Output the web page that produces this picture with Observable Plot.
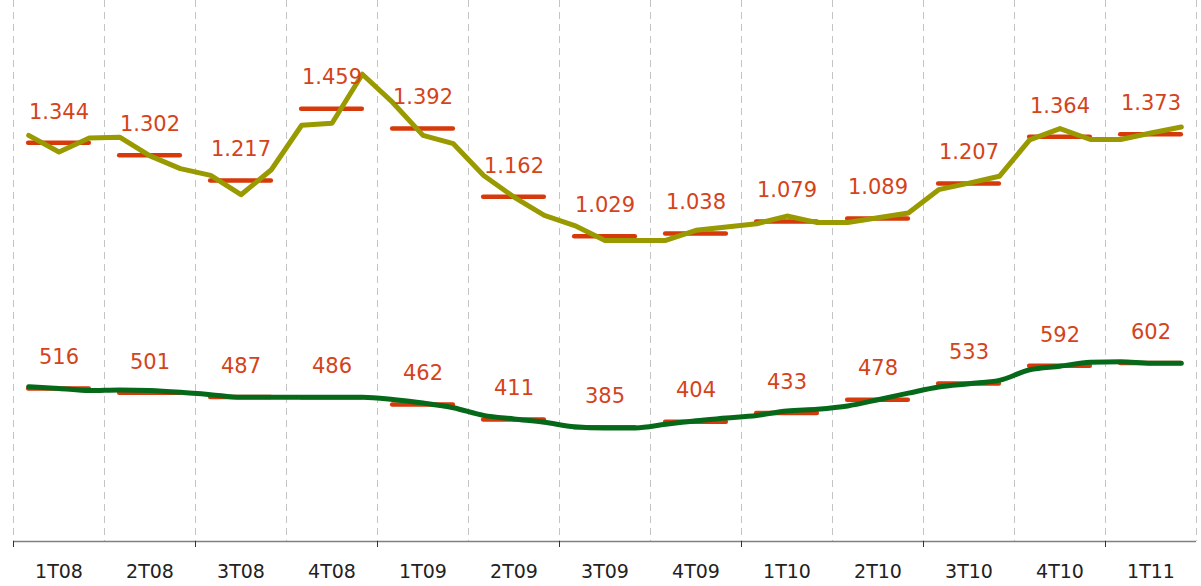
<!DOCTYPE html>
<html>
<head>
<meta charset="utf-8">
<script src="https://cdn.jsdelivr.net/npm/d3@7"></script>
<script src="https://cdn.jsdelivr.net/npm/@observablehq/plot@0.6"></script>
<style>
  html, body { margin: 0; padding: 0; background: #fff; }
</style>
</head>
<body>
<div id="chart"></div>
<script>
const quarters = ["1T08","2T08","3T08","4T08","1T09","2T09","3T09","4T09","1T10","2T10","3T10","4T10","1T11"];
const quarterAvgUpper = [1344,1302,1217,1459,1392,1162,1029,1038,1079,1089,1207,1364,1373];
const quarterAvgLower = [516,501,487,486,462,411,385,404,433,478,533,592,602];
const monthlyUpper = [1369,1313,1360, 1363,1300,1257, 1234,1169,1253, 1403,1410,1575,
                      1480,1369,1341, 1234,1161,1099, 1065,1015,1015, 1015,1049,1060,
                      1071,1097,1075, 1075,1091,1107, 1186,1208,1231, 1354,1392,1355,
                      1355,1377,1397];
const monthlyLower = [522,516,509, 511,509,503, 495,486,486, 486,486,486,
                      479,467,451, 425,413,402, 387,383,383, 395,407,416,
                      425,440,446, 457,478,500, 521,532,543, 579,591,604,
                      606,601,601];

const fmt = d3.formatLocale({decimal: ",", thousands: ".", grouping: [3], currency: ["", "€"]}).format(",d");

const quarterRows = quarters.flatMap((q, i) => [
  {q: i, label: q, v: quarterAvgUpper[i]},
  {q: i, label: q, v: quarterAvgLower[i]}
]);
const upperRows = monthlyUpper.map((v, i) => ({m: i + 0.5, v}));
const lowerRows = monthlyLower.map((v, i) => ({m: i + 0.5, v}));
const boundaries = d3.range(0, 40, 3);
const majorTicks = d3.range(0, 37, 6);
const centers = quarters.map((q, i) => 3 * i + 1.5);

const chart = Plot.plot({
  width: 1201,
  height: 586,
  marginTop: 7,
  marginBottom: 45,
  marginLeft: 13,
  marginRight: 5,
  style: {fontFamily: "DejaVu Sans", background: "#fff"},
  x: {domain: [0, 39], axis: null, label: null},
  y: {domain: [0, 1800], axis: null, label: null},
  marks: [
    Plot.ruleX(boundaries, {x: d => d, stroke: "#c4c4c4", strokeWidth: 1, strokeDasharray: "7,5", insetTop: -7}),
    Plot.ruleY([0], {stroke: "#808080", strokeWidth: 1.5}),
    Plot.axisX(majorTicks, {tickSize: 6, tickFormat: () => "", stroke: "#333", label: null}),
    Plot.axisX(centers, {tickSize: 0, tickPadding: 23, tickFormat: d => quarters[Math.round((d - 1.5) / 3)], fontSize: 19, fill: "#222", label: null}),
    Plot.ruleY(quarterRows, {x1: d => 3 * d.q + 0.5, x2: d => 3 * d.q + 2.5, y: "v", stroke: "#d63a0a", strokeWidth: 4.5, strokeLinecap: "round"}),
    Plot.line(upperRows, {x: "m", y: "v", stroke: "#999900", strokeWidth: 5, strokeLinejoin: "round"}),
    Plot.line(lowerRows, {x: "m", y: "v", stroke: "#06691a", strokeWidth: 5, curve: "monotone-x", strokeLinecap: "round"}),
    Plot.text(quarterRows, {x: d => 3 * d.q + 1.5, y: "v", text: d => fmt(d.v), dy: -31, fill: "#d4431a", fontSize: 21})
  ]
});
document.getElementById("chart").appendChild(chart);
</script>
</body>
</html>
